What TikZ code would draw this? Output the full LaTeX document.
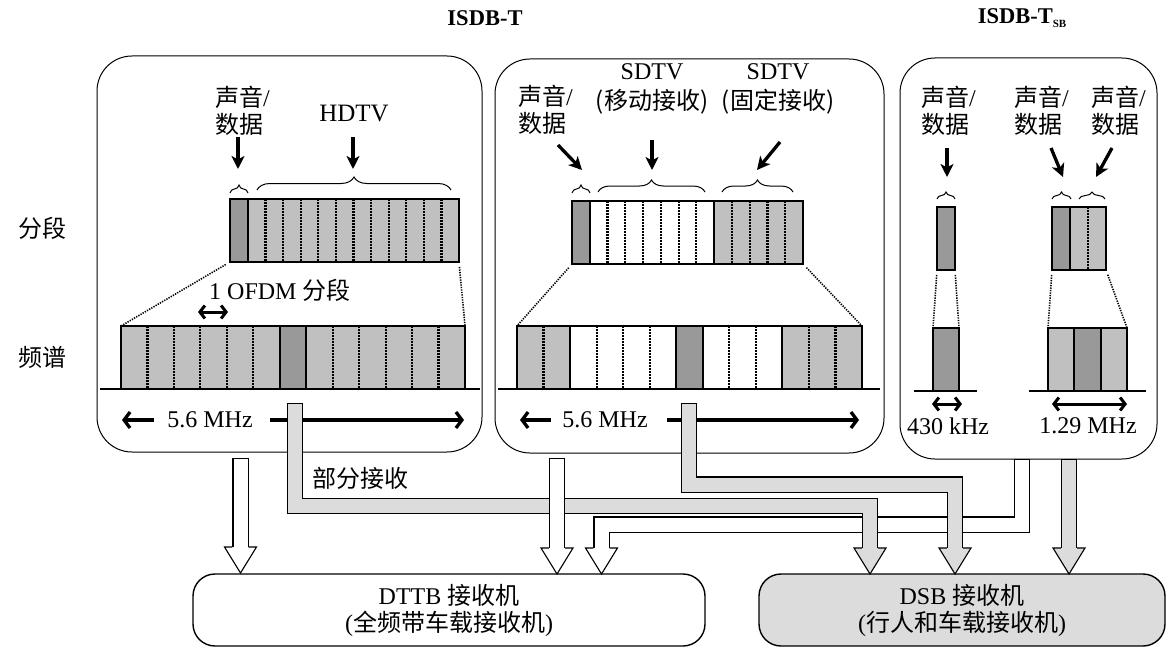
\documentclass[tikz,border=0pt]{standalone}
\usepackage{fontspec}
\setmainfont{Liberation Serif}
\newfontfamily\cjk{Noto Sans CJK SC}
\usetikzlibrary{arrows.meta,decorations.pathreplacing}
\definecolor{darkc}{HTML}{999999}
\definecolor{lightc}{HTML}{C0C0C0}
\definecolor{pipec}{HTML}{DCDCDC}
\newcommand\zh[1]{{\cjk #1}}
% group of segments: x0, seg width, n, fill, ytop, ybot
\newcommand\grp[6]{%
  \draw[cellline, fill=#4] (#1,#5) rectangle ({#1+#3*#2},#6);
  \ifnum#3>1
    \foreach \k in {2,...,#3}{\draw[dotline] ({#1+(\k-1)*#2},#5) -- ({#1+(\k-1)*#2},#6);}
  \fi
}
% hollow arrow head of a pipe: x, tip y, fill
\newcommand\phead[3]{%
  \path[fill=#3, draw=black, line width=1.1pt, line join=miter]
    ({#1-8.2},{#2-26}) -- ({#1-16},{#2-26}) -- (#1,#2) -- ({#1+16},{#2-26}) -- ({#1+8.2},{#2-26});
}
\begin{document}
\begin{tikzpicture}[x=1pt,y=-1pt,
  every node/.style={inner sep=0pt, font=\fontsize{24}{27}\selectfont},
  cellline/.style={line width=2pt},
  dotline/.style={line width=2.2pt, dash pattern=on 1.6pt off 1.4pt},
  trap/.style={line width=1.6pt, dash pattern=on 1.3pt off 1.2pt, shorten <=5pt},
  panelbox/.style={draw, line width=1pt, rounded corners=35pt},
  recv/.style={draw, line width=1.4pt, rounded corners=22pt, align=center},
  brc/.style={decorate, decoration={brace, amplitude=#1}, line width=1pt},
  downarr/.style={line width=3.3pt, -{Stealth[length=13pt, width=13pt, inset=3.5pt]}},
  dimarr/.style={line width=3.3pt, -{Straight Barb[length=6pt, width=16pt]}},
  dimboth/.style={line width=3pt, {Straight Barb[length=5pt, width=13pt]}-{Straight Barb[length=5pt, width=13pt]}},
  pipeW/.style={double=white, double distance=14pt, line width=1.1pt, line cap=rect, line join=miter},
  pipeG/.style={double=pipec, double distance=14pt, line width=1.1pt, line cap=rect, line join=miter}]
\useasboundingbox (0,0) rectangle (1167,650);

% titles
\node[font=\fontsize{22.5}{25}\selectfont\bfseries] (t1) at (485,18) {ISDB-T};
\node[font=\fontsize{22.5}{25}\selectfont\bfseries] (t2) at (1022,18) {ISDB-T\raisebox{-4pt}{\fontsize{11}{11}\selectfont SB}};

% row labels
\node (lseg) at (42,228) {\zh{分段}};
\node (lspec) at (42,357) {\zh{频谱}};

% panels
\node[panelbox, minimum width=385pt, minimum height=396pt] (p1) at (289.5,254) {};
\node[panelbox, minimum width=389pt, minimum height=394pt] (p2) at (689.5,256) {};
\node[panelbox, minimum width=257pt, minimum height=401pt] (p3) at (1028.5,258.5) {};

% ---------- panel 1 ----------
\node[anchor=west, align=left] (p1a) at (215,111) {\zh{声音}/\\\zh{数据}};
\node[font=\fontsize{25}{27}\selectfont] (p1h) at (354,114) {HDTV};
\draw[downarr] (238,137) -- (238,169);
\draw[downarr] (353,137) -- (353,169);
\draw[brc=8pt] (230,193) -- (248,193);
\draw[brc=13pt] (257,190) -- (451,190);
\grp{230}{18}{1}{darkc}{199}{262}
\grp{248}{17.583}{12}{lightc}{199}{262}
\draw[trap] (230,262) -- (121,326);
\draw[trap] (459,262) -- (465,326);
\node[anchor=west] (p1o) at (209,290) {1 OFDM \zh{分段}};
\draw[dimboth] (198,312) -- (228,312);
\grp{121}{26.46}{6}{lightc}{326}{389}
\grp{279.77}{26.46}{1}{darkc}{326}{389}
\grp{306.23}{26.46}{6}{lightc}{326}{389}
\draw[line width=2pt] (100,389) -- (480,389);
\node (p1f) at (210,420) {5.6 MHz};
\draw[dimarr] (154,420) -- (122,420);
\draw[dimarr] (270,420) -- (464,420);

% ---------- panel 2 ----------
\node[anchor=west, align=left] (p2a) at (518,110) {\zh{声音}/\\\zh{数据}};
\node (p2m1) at (652,72) {SDTV};
\node (p2m2) at (652,102) {\zh{(移动接收)}};
\node (p2f1) at (778,72) {SDTV};
\node (p2f2) at (778,102) {\zh{(固定接收)}};
\draw[downarr] (558,145) -- (582,170);
\draw[downarr] (652,140) -- (652,170);
\draw[downarr] (780,142) -- (757,170);
\draw[brc=8pt] (572,193) -- (590,193);
\draw[brc=12pt] (598,192) -- (705,192);
\draw[brc=12pt] (722,192) -- (793,192);
\grp{572}{17.77}{1}{darkc}{201}{264}
\grp{589.77}{17.77}{7}{white}{201}{264}
\grp{714.16}{17.77}{5}{lightc}{201}{264}
\draw[trap] (572,264) -- (517,326);
\draw[trap] (803,264) -- (862,326);
\grp{517}{26.54}{2}{lightc}{326}{389}
\grp{570.08}{26.54}{4}{white}{326}{389}
\grp{676.24}{26.54}{1}{darkc}{326}{389}
\grp{702.78}{26.54}{3}{white}{326}{389}
\grp{782.4}{26.54}{3}{lightc}{326}{389}
\draw[line width=2pt] (498,389) -- (880,389);
\node (p2f) at (605,420) {5.6 MHz};
\draw[dimarr] (551,420) -- (520,420);
\draw[dimarr] (667,420) -- (859,420);

% ---------- panel 3 ----------
\node[anchor=west, align=left] (p3a) at (921,111) {\zh{声音}/\\\zh{数据}};
\node[anchor=west, align=left] (p3b) at (1014,111) {\zh{声音}/\\\zh{数据}};
\node[anchor=west, align=left] (p3c) at (1091,111) {\zh{声音}/\\\zh{数据}};
\draw[downarr] (947,148) -- (947,177);
\draw[downarr] (1051,148) -- (1063,177);
\draw[downarr] (1112,148) -- (1096,177);
\draw[brc=7pt] (937,199) -- (955,199);
\draw[brc=7pt] (1052,199) -- (1071,199);
\draw[brc=7pt] (1079,199) -- (1105,199);
\grp{937}{18}{1}{darkc}{207}{270}
\grp{1052}{18}{1}{darkc}{207}{270}
\grp{1070}{18}{2}{lightc}{207}{270}
\draw[trap] (937,270) -- (933,328);
\draw[trap] (955,270) -- (959,328);
\draw[trap] (1052,270) -- (1048,328);
\draw[trap] (1106,270) -- (1127,328);
\grp{933}{26}{1}{darkc}{328}{391}
\grp{1048}{26.33}{1}{lightc}{328}{391}
\grp{1074.33}{26.33}{1}{darkc}{328}{391}
\grp{1100.67}{26.33}{1}{lightc}{328}{391}
\draw[line width=2pt] (914,391) -- (977,391);
\draw[line width=2pt] (1029,391) -- (1146,391);
\draw[dimboth] (932,404) -- (962,404);
\draw[dimboth] (1052,404) -- (1127,404);
\node (p3k) at (948,426) {430 kHz};
\node (p3m) at (1088,426) {1.29 MHz};

% ---------- receivers ----------
\node[recv, minimum width=512pt, minimum height=72pt] (dttb) at (449,610)
  {DTTB \zh{接收机}\\(\zh{全频带车载接收机})};
\node[recv, fill=pipec, minimum width=406pt, minimum height=72pt] (dsb) at (962,610)
  {DSB \zh{接收机}\\(\zh{行人和车载接收机})};

% ---------- pipes ----------
\draw[pipeW] (1022,467.2) -- (1022,524.5) -- (601.5,524.5) -- (601.5,548);
\draw[pipeG] (295,411.2) -- (295,506) -- (870,506) -- (870,548);
\draw[pipeG] (689,411.2) -- (689,484.5) -- (955,484.5) -- (955,548);
\draw[pipeG] (1069,467.2) -- (1069,548);
\draw[pipeW] (240.5,466.2) -- (240.5,548);
\draw[pipeW] (557,466.2) -- (557,548);
\phead{240.5}{573}{white}
\phead{557}{574}{white}
\phead{601.5}{574}{white}
\phead{870}{574}{pipec}
\phead{955}{574}{pipec}
\phead{1069}{574}{pipec}
\node[anchor=west] (part) at (312,478) {\zh{部分接收}};
\end{tikzpicture}
\end{document}
